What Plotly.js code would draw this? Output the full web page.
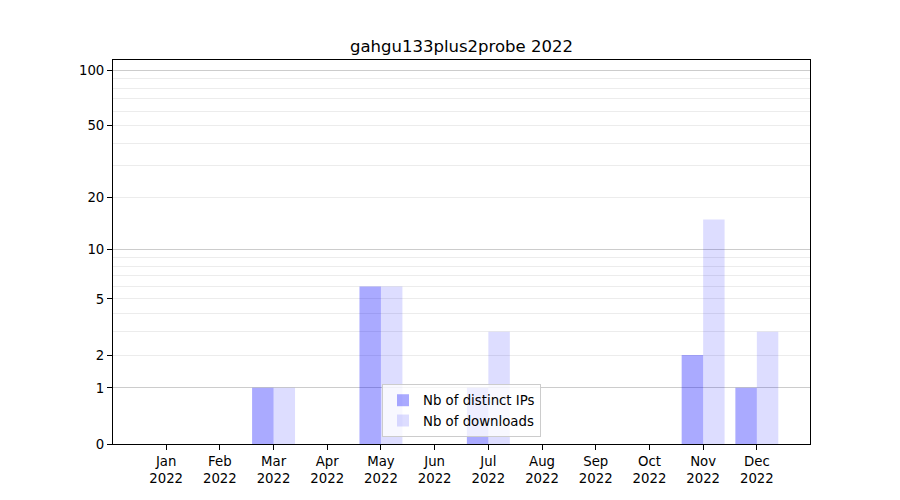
<!DOCTYPE html>
<html>
<head>
<meta charset="utf-8">
<script src="https://cdn.plot.ly/plotly-3.0.1.min.js"></script>
<style>html,body{margin:0;padding:0;background:#fff;}#chart{width:900px;height:500px;}</style>
</head>
<body>
<div id="chart"></div>
<script>
const months = ["Jan","Feb","Mar","Apr","May","Jun","Jul","Aug","Sep","Oct","Nov","Dec"];
const year = "2022";
const distinctIPs = [0,0,1,0,6,0,1,0,0,0,2,1];
const downloads   = [0,0,1,0,6,0,3,0,0,0,15,3];
const yTickValues = [0,1,2,5,10,20,50,100];
const yMinorValues = [3,4,6,7,8,9,30,40,60,70,80,90];
const yMajorGrid = [1,10,100];

const f = v => Math.log10(1 + v);   // symmetric-log style scale
const xIdx = months.map((m,i)=>i);
const font = {family: "DejaVu Sans, sans-serif", size: 13.3, color: "#000"};

const traces = [
  {type:"bar", name:"Nb of distinct IPs", x:xIdx, y:distinctIPs.map(f),
   marker:{color:"rgba(0,0,255,0.333)", line:{width:0}}, hoverinfo:"skip"},
  {type:"bar", name:"Nb of downloads", x:xIdx, y:downloads.map(f),
   marker:{color:"rgba(0,0,255,0.133)", line:{width:0}}, hoverinfo:"skip"},
  {type:"scatter", x:[0], y:[0], yaxis:"y2", mode:"markers", marker:{opacity:0},
   showlegend:false, hoverinfo:"skip"}
];

const yrange = [0, 2.059];
const layout = {
  width:900, height:500,
  margin:{l:113, r:90, t:60, b:56},
  paper_bgcolor:"#fff", plot_bgcolor:"rgba(0,0,0,0)",
  font: font,
  title:{text:"gahgu133plus2probe 2022", font:{family:"DejaVu Sans, sans-serif", size:16.5, color:"#000"},
         xref:"paper", x:0.5, xanchor:"center", yref:"container", y:0.908, yanchor:"middle"},
  barmode:"group", bargap:0.2, bargroupgap:0,
  showlegend:true,
  legend:{x:0.5, xanchor:"center", y:0.018, yanchor:"bottom",
          bgcolor:"rgba(255,255,255,0.8)", bordercolor:"#cccccc", borderwidth:1,
          font:{family:"DejaVu Sans, sans-serif", size:13.3, color:"#000"}, traceorder:"normal"},
  xaxis:{range:[-0.99,11.99], tickmode:"array", tickvals:xIdx,
         ticktext:months.map(m=>m+"<br>"+year),
         showgrid:false, zeroline:false, showline:true, mirror:true, linecolor:"#000", linewidth:1,
         ticks:"outside", ticklen:5, tickcolor:"#000", tickfont:font},
  yaxis:{range:yrange, tickmode:"array", tickvals:yTickValues.map(f), ticktext:yTickValues.map(String),
         showgrid:true, gridcolor:"#ececec", gridwidth:1, zeroline:false,
         minor:{tickmode:"array", tickvals:yMinorValues.map(f), showgrid:true, gridcolor:"#ececec", gridwidth:1, ticks:""},
         showline:true, mirror:true, linecolor:"#000", linewidth:1,
         ticks:"outside", ticklen:5, tickcolor:"#000", tickfont:font},
  yaxis2:{range:yrange, overlaying:"y", tickmode:"array", tickvals:yMajorGrid.map(f), showticklabels:false,
          showgrid:true, gridcolor:"#cccccc", gridwidth:1, zeroline:false, ticks:"", showline:false}
};

Plotly.newPlot("chart", traces, layout, {displayModeBar:false, staticPlot:true});
</script>
</body>
</html>
